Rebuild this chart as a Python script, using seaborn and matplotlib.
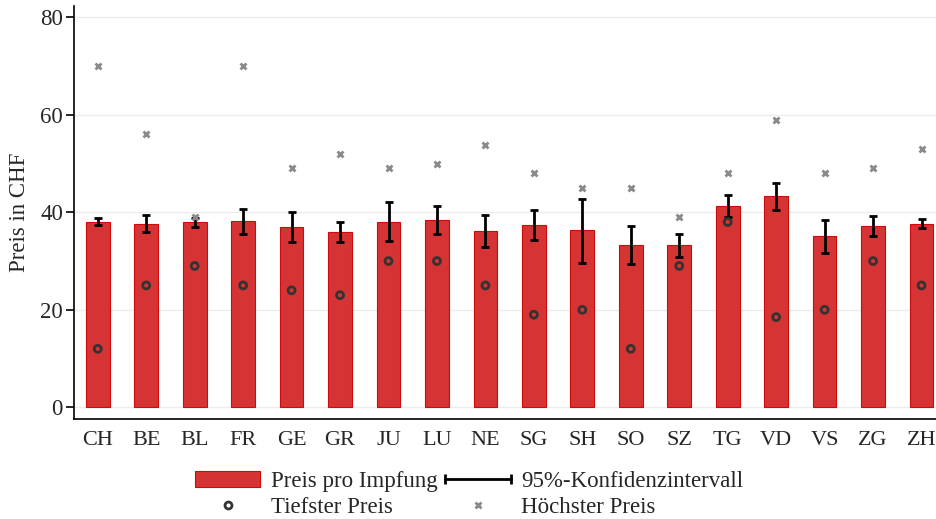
import matplotlib
matplotlib.use("Agg")
import matplotlib.pyplot as plt
from matplotlib.lines import Line2D
from matplotlib.patches import Patch
from matplotlib.legend_handler import HandlerLine2D
import seaborn as sns
import pandas as pd
import numpy as np

cantons = ["CH", "BE", "BL", "FR", "GE", "GR", "JU", "LU", "NE", "SG",
           "SH", "SO", "SZ", "TG", "VD", "VS", "ZG", "ZH"]
mean_price = [38.1, 37.7, 38.0, 38.3, 37.0, 35.9, 38.1, 38.5, 36.1, 37.4,
              36.4, 33.2, 33.2, 41.3, 43.3, 35.1, 37.2, 37.7]
ci_low = [37.3, 35.9, 36.9, 35.5, 33.9, 33.9, 34.1, 35.5, 32.9, 34.4,
          29.7, 29.3, 30.8, 39.1, 40.5, 31.7, 35.1, 36.7]
ci_high = [38.8, 39.5, 38.9, 40.7, 40.1, 38.1, 42.1, 41.3, 39.5, 40.5,
           42.8, 37.1, 35.5, 43.5, 46.1, 38.4, 39.2, 38.7]
min_price = [12, 25, 29, 25, 24, 23, 30, 30, 25, 19,
             20, 12, 29, 38, 18.5, 20, 30, 25]
max_price = [70, 56, 39, 70, 49, 52, 49, 50, 53.7, 48,
             45, 45, 39, 48, 59, 48, 49, 53]

df = pd.DataFrame({"Kanton": cantons, "Preis": mean_price,
                   "lo": ci_low, "hi": ci_high,
                   "min": min_price, "max": max_price})

sns.set_theme(style="white")
plt.rcParams["font.family"] = ["Liberation Serif", "DejaVu Serif"]
FS = 16.5
plt.rcParams["font.size"] = FS

fig = plt.figure(figsize=(9.37, 5.19), dpi=100)
ax = fig.add_axes([0.079, 0.193, 0.92, 0.795])

bar_color = "#d63434"
sns.barplot(data=df, x="Kanton", y="Preis", color=bar_color, width=0.49,
            edgecolor="#d00a0a", linewidth=0.8, saturation=1, errorbar=None, ax=ax)

x = np.arange(len(cantons))
mp = np.array(mean_price)
ax.errorbar(x, mp, yerr=[mp - np.array(ci_low), np.array(ci_high) - mp],
            fmt="none", ecolor="black", elinewidth=2, capsize=2.8, capthick=2, zorder=4)

sns.stripplot(data=df, x="Kanton", y="min", jitter=False, marker="o", size=5,
              facecolor="none", edgecolor="#333333", linewidth=2, color="none",
              ax=ax, zorder=5)
ax.plot(x, df["max"], linestyle="none", marker="x", markersize=4,
        markeredgewidth=2, color="#8a8a8a", zorder=5)

ax.set_ylim(-2.35, 82.25)
ax.set_xlim(-0.49, 17.3)
ax.set_yticks([0, 20, 40, 60, 80])
ax.yaxis.grid(True, color="#ececec", linewidth=1)
ax.xaxis.grid(False)
ax.set_axisbelow(True)
for s in ["top", "right"]:
    ax.spines[s].set_visible(False)
for s in ["left", "bottom"]:
    ax.spines[s].set_color("black")
    ax.spines[s].set_linewidth(1.2)
ax.tick_params(axis="y", left=True, length=6, width=1.2, color="black",
               labelsize=FS, pad=2)
ax.tick_params(axis="x", bottom=False, labelsize=16, pad=3)
ax.set_xlabel("")
ax.set_ylabel("Preis in CHF", fontsize=FS, labelpad=7)

h_bar = Patch(facecolor=bar_color, edgecolor="#d00a0a", linewidth=0.8)
h_min = Line2D([0], [0], linestyle="none", marker="o", markersize=5,
               markerfacecolor="none", markeredgecolor="#333333", markeredgewidth=2)
h_ci = Line2D([0, 1], [0, 0], color="black", linewidth=2, marker="|",
              markersize=7, markeredgewidth=2)
h_max = Line2D([0], [0], linestyle="none", marker="x", markersize=4,
               markeredgewidth=2, color="#8a8a8a")
fig.legend([h_bar, h_min, h_ci, h_max],
           ["Preis pro Impfung", "Tiefster Preis", "95%-Konfidenzintervall", "Höchster Preis"],
           ncol=2, loc="center", bbox_to_anchor=(0.5005, 0.048), frameon=False,
           fontsize=FS, handlelength=2.85, handletextpad=0.45, columnspacing=0.35,
           labelspacing=0.22, numpoints=1,
           handler_map={h_ci: HandlerLine2D(numpoints=2, marker_pad=0.0)})

fig.savefig("out.png", dpi=100)
